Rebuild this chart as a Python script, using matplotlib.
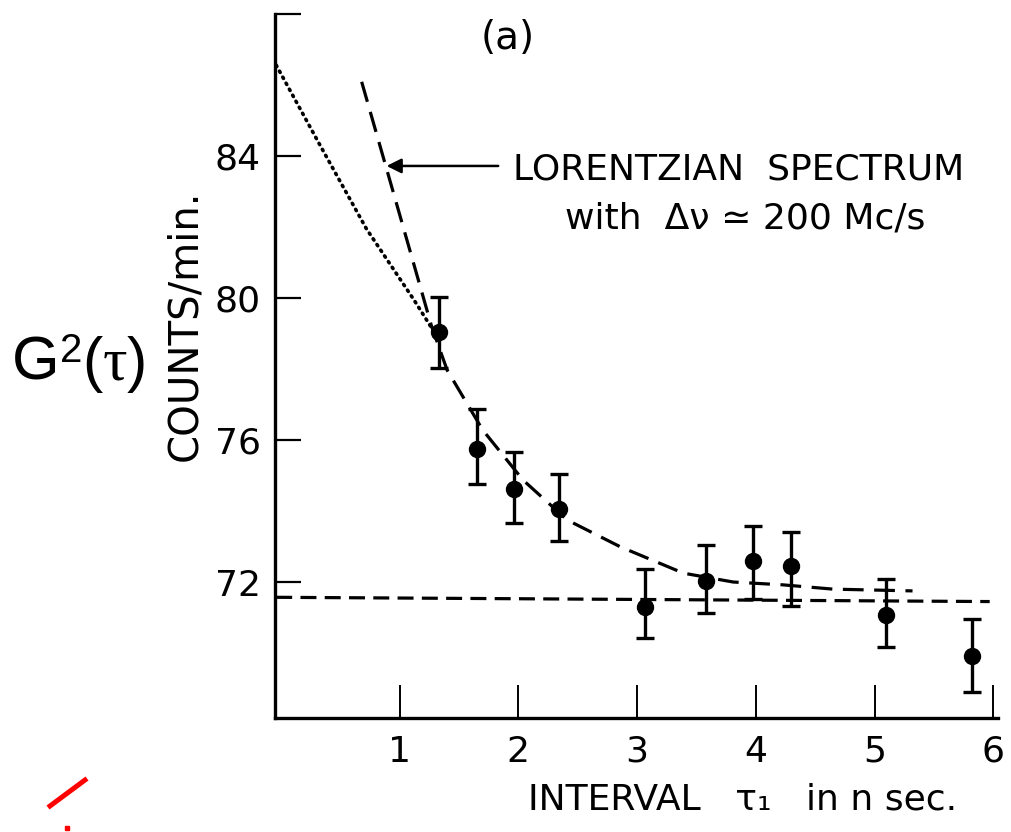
import matplotlib
matplotlib.use('Agg')
import matplotlib.pyplot as plt
from matplotlib.lines import Line2D

# ---- data ----
tau = [1.33, 1.65, 1.96, 2.34, 3.07, 3.58, 3.98, 4.30, 5.10, 5.82]
counts = [79.04, 75.75, 74.62, 74.06, 71.30, 72.03, 72.59, 72.45, 71.07, 69.92]
err_low = [1.01, 0.99, 0.96, 0.91, 0.88, 0.90, 1.07, 1.13, 0.90, 1.02]
err_high = [0.99, 1.12, 1.04, 0.98, 1.07, 1.01, 0.99, 0.96, 1.01, 1.04]

lor_x = [0.68, 1.00, 1.27, 1.40, 1.70, 2.04, 2.41, 2.86, 3.39, 3.81, 4.23, 4.65, 5.32]
lor_y = [86.09, 82.35, 79.19, 77.97, 76.28, 74.87, 73.75, 72.99, 72.25, 72.00, 71.92, 71.80, 71.75]

dot_x = [-0.04, 0.33, 0.72, 1.12, 1.28]
dot_y = [86.56, 84.30, 81.95, 79.95, 79.10]

base_x = [-0.04, 5.97]
base_y = [71.57, 71.45]

xticks = [1, 2, 3, 4, 5, 6]
xtick_labels = ['1', '2', '3', '4', '5', '6']
yticks = [72, 76, 80, 84, 88]
ytick_labels = ['72', '76', '80', '84', '']

FONT = ['DejaVu Sans']

W, H = 1012, 832
fig = plt.figure(figsize=(W / 100, H / 100), dpi=100)
ax = fig.add_axes([275 / W, 1 - 718 / H, 723 / W, 704 / H])
ax.set_xlim(-0.05, 6.04)
ax.set_ylim(68.17, 88.0)

for s in ['top', 'right']:
    ax.spines[s].set_visible(False)
for s in ['left', 'bottom']:
    ax.spines[s].set_linewidth(2.4)

ax.set_xticks(xticks)
ax.set_xticklabels(xtick_labels, fontsize=26, family=FONT)
ax.set_yticks(yticks)
ax.set_yticklabels(ytick_labels, fontsize=26, family=FONT)
ax.tick_params(axis='x', direction='in', length=24, width=1.4, pad=12)
ax.tick_params(axis='y', direction='in', length=19, width=1.6, pad=10)

# baseline
ax.plot(base_x, base_y, color='black', lw=2.3, dashes=(5, 2.6))
# Lorentzian fit
ax.plot(lor_x, lor_y, color='black', lw=2.3, dashes=(6.5, 3.3))
# dotted extrapolation
ax.plot(dot_x, dot_y, color='black', lw=2.6, dashes=(0.4, 1.5),
        dash_capstyle='round')

ax.errorbar(tau, counts, yerr=[err_low, err_high], fmt='o', color='black',
            ms=11.5, elinewidth=2.4, capsize=6.5, capthick=2.4)

ax.annotate('', xy=(0.89, 83.72), xytext=(1.83, 83.72),
            arrowprops=dict(arrowstyle='-|>', color='black', lw=1.8,
                            mutation_scale=22, shrinkA=0, shrinkB=0))
ax.text(1.955, 83.62, 'LORENTZIAN  SPECTRUM', va='center', ha='left',
        fontsize=26, family=FONT)
ax.text(2.39, 82.25, 'with  Δν ≃ 200 Mc/s', va='center', ha='left',
        fontsize=26, family=FONT)
ax.text(1.91, 87.32, '(a)', va='center', ha='center', fontsize=28, family=FONT)

fig.text(743 / W, 1 - 800 / H, 'INTERVAL   τ₁   in n sec.', ha='center',
         va='center', fontsize=26, family=FONT)
fig.text(185 / W, 1 - 325 / H, 'COUNTS/min.', ha='center', va='center',
         rotation=90, fontsize=29, family=FONT)

# G²(τ) label: sans G, raised 2, serif tau
renderer = fig.canvas.get_renderer()
base_px = 380
x_cur = 12 / W
parts = [('G', 'Liberation Sans', 44, 0),
         ('2', 'Liberation Sans', 29, 18),
         ('(', 'Liberation Sans', 44, 0),
         ('τ', 'Liberation Serif', 44, 0),
         (')', 'Liberation Sans', 44, 0)]
for s, fam, fs, raise_px in parts:
    t = fig.text(x_cur, 1 - (base_px - raise_px) / H, s, ha='left',
                 va='baseline', fontsize=fs, family=fam)
    bb = t.get_window_extent(renderer=renderer)
    x_cur = bb.x1 / W

# red marks in the bottom-left corner of the reference
fig.add_artist(Line2D([50 / W, 85 / W], [1 - 806 / H, 1 - 780 / H],
                      color='red', lw=3.6, transform=fig.transFigure))
fig.add_artist(Line2D([67 / W], [1 - 828 / H], marker='s', ms=3,
                      color='red', lw=0, transform=fig.transFigure))

fig.savefig('out.png', dpi=100)
